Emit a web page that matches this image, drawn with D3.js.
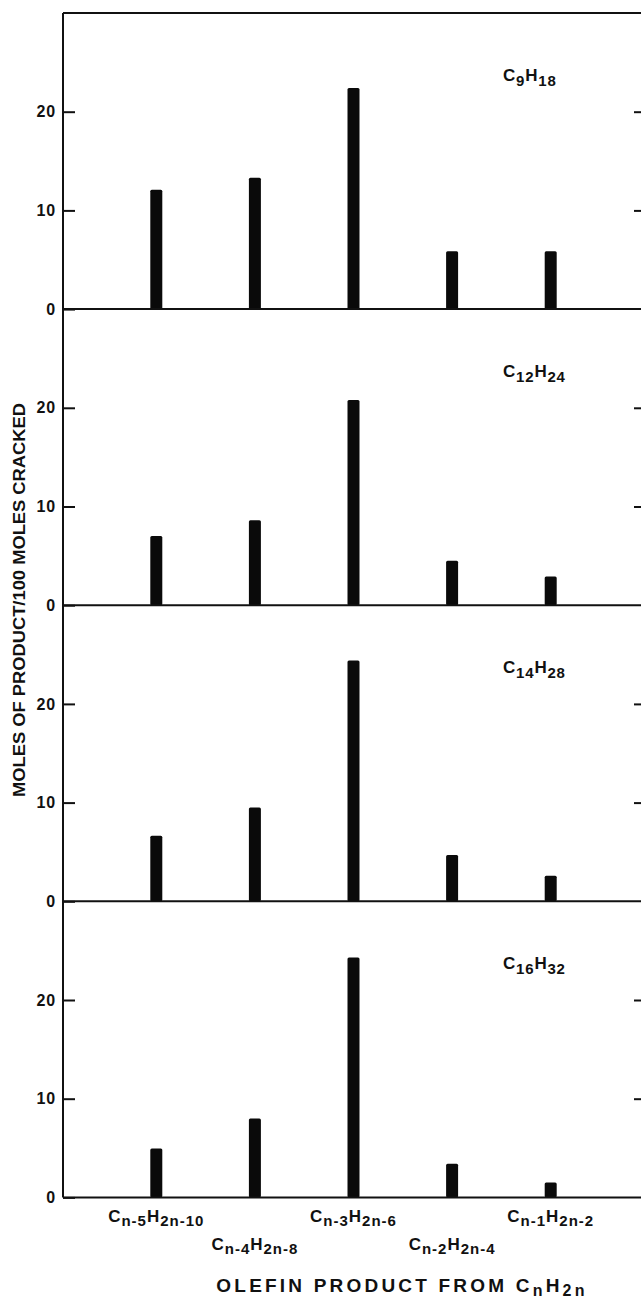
<!DOCTYPE html>
<html>
<head>
<meta charset="utf-8">
<script src="https://cdn.jsdelivr.net/npm/d3@7/dist/d3.min.js"></script>
<style>
  html, body { margin: 0; padding: 0; background: #fff; }
  svg { display: block; }
  text { font-family: "Liberation Sans", Arial, Helvetica, sans-serif; font-weight: bold; fill: #111; }
</style>
</head>
<body>
<div id="chart"></div>
<script>
// olefin product distribution, four feed olefins stacked vertically

const categories = ['n-5', 'n-4', 'n-3', 'n-2', 'n-1'];
const hydrogenSubs = ['2n-10', '2n-8', '2n-6', '2n-4', '2n-2'];

// panel names: [carbon subscript, hydrogen subscript]
const panelNames = [['9', '18'], ['12', '24'], ['14', '28'], ['16', '32']];

const c9h18 = [12.1, 13.3, 22.4, 5.85, 5.85];
const c12h24 = [7.0, 8.6, 20.8, 4.5, 2.9];
const c14h28 = [6.65, 9.5, 24.4, 4.7, 2.6];
const c16h32 = [4.95, 8.0, 24.3, 3.4, 1.5];
const panelValues = [c9h18, c12h24, c14h28, c16h32];

const yTicks = [0, 10, 20];

const W = 641, H = 1308;
const frameLeft = 63, frameRight = 646, frameTop = 13;
const panelH = 296.1;
const barW = 12;

const svg = d3.select('#chart').append('svg')
    .attr('width', W)
    .attr('height', H);

const x = d3.scalePoint()
    .domain(categories)
    .range([156.3, 550.7]);

const y = d3.scaleLinear().domain([0, 30]).range([panelH, 0]);

panelValues.forEach(function(values, i) {
    const g = svg.append('g')
        .attr('transform', 'translate(0,' + (frameTop + i * panelH) + ')');

    // bars
    g.selectAll('rect')
        .data(values)
        .join('rect')
        .attr('x', (d, j) => x(categories[j]) - barW / 2)
        .attr('y', d => y(d))
        .attr('width', barW)
        .attr('height', d => y(0) - y(d))
        .attr('rx', 1.5)
        .attr('fill', '#0a0a0a');

    // left axis: inward ticks with labels
    const leftAxis = g.append('g')
        .attr('transform', 'translate(' + frameLeft + ',0)')
        .call(d3.axisLeft(y).tickValues(yTicks).tickSize(-12).tickPadding(7).tickFormat(d3.format('d')));
    leftAxis.select('.domain').remove();
    leftAxis.selectAll('line').attr('stroke', '#111').attr('stroke-width', 2);
    leftAxis.selectAll('text')
        .attr('font-size', 16)
        .attr('letter-spacing', 0.8)
        .attr('font-family', '"Liberation Sans", Arial, sans-serif')
        .attr('font-weight', 'bold')
        .attr('fill', '#111');

    // right axis: inward ticks only
    const rightAxis = g.append('g')
        .attr('transform', 'translate(' + frameRight + ',0)')
        .call(d3.axisRight(y).tickValues([10, 20]).tickSize(-12).tickFormat(''));
    rightAxis.select('.domain').remove();
    rightAxis.selectAll('line').attr('stroke', '#111').attr('stroke-width', 2);

    // baseline of the panel
    g.append('line')
        .attr('x1', frameLeft).attr('x2', frameRight)
        .attr('y1', y(0)).attr('y2', y(0))
        .attr('stroke', '#111').attr('stroke-width', 2);

    // panel name
    const name = panelNames[i];
    const lbl = g.append('text')
        .attr('x', 503)
        .attr('y', 68)
        .attr('font-size', 17)
        .attr('letter-spacing', 0.8);
    lbl.append('tspan').text('C');
    lbl.append('tspan').attr('font-size', 15).attr('dy', 5).text(name[0]);
    lbl.append('tspan').attr('dy', -5).text('H');
    lbl.append('tspan').attr('font-size', 15).attr('dy', 5).text(name[1]);
});

// frame: top line and left / right verticals
const frameBottom = frameTop + 4 * panelH;
svg.append('line')
    .attr('x1', frameLeft).attr('x2', frameRight).attr('y1', frameTop).attr('y2', frameTop)
    .attr('stroke', '#111').attr('stroke-width', 2);
svg.append('line')
    .attr('x1', frameLeft).attr('x2', frameLeft).attr('y1', frameTop).attr('y2', frameBottom)
    .attr('stroke', '#111').attr('stroke-width', 2);
svg.append('line')
    .attr('x1', frameRight).attr('x2', frameRight).attr('y1', frameTop).attr('y2', frameBottom)
    .attr('stroke', '#111').attr('stroke-width', 2);

// category labels, staggered in two rows
const catLabels = svg.append('g').selectAll('text')
    .data(categories)
    .join('text')
    .attr('x', d => x(d))
    .attr('y', (d, j) => j % 2 === 0 ? frameBottom + 25 : frameBottom + 53)
    .attr('text-anchor', 'middle')
    .attr('font-size', 17)
    .attr('letter-spacing', 1);
catLabels.append('tspan').text('C');
catLabels.append('tspan').attr('font-size', 15).attr('dy', 4).text(d => d);
catLabels.append('tspan').attr('dy', -4).text('H');
catLabels.append('tspan').attr('font-size', 15).attr('dy', 4).text((d, j) => hydrogenSubs[j]);

// x axis title
const xTitle = svg.append('text')
    .attr('x', 402)
    .attr('y', 1292)
    .attr('text-anchor', 'middle')
    .attr('font-size', 19)
    .attr('letter-spacing', 3.2);
xTitle.append('tspan').text('OLEFIN PRODUCT FROM C');
xTitle.append('tspan').attr('font-size', 16).attr('dy', 4).text('n');
xTitle.append('tspan').attr('dy', -4).text('H');
xTitle.append('tspan').attr('font-size', 16).attr('dy', 4).text('2n');

// y axis title
svg.append('text')
    .attr('transform', 'translate(25,600) rotate(-90)')
    .attr('text-anchor', 'middle')
    .attr('font-size', 17)
    .attr('textLength', 394)
    .attr('lengthAdjust', 'spacingAndGlyphs')
    .text('MOLES OF PRODUCT/100 MOLES CRACKED');
</script>
</body>
</html>
